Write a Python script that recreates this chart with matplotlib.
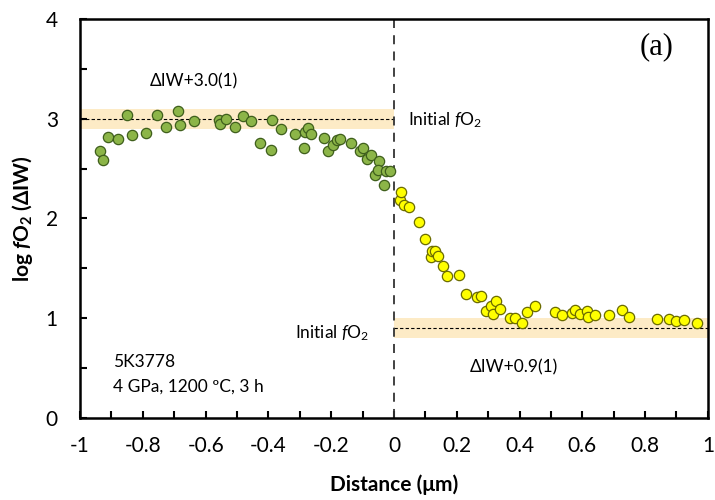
import matplotlib
matplotlib.use("Agg")
import matplotlib.pyplot as plt
from matplotlib.ticker import MultipleLocator, FuncFormatter

plt.rcParams['font.family'] = ['Lato', 'DejaVu Sans']
plt.rcParams['axes.unicode_minus'] = False
plt.rcParams['mathtext.fontset'] = 'custom'
plt.rcParams['mathtext.rm'] = 'Lato'
plt.rcParams['mathtext.it'] = 'Lato:italic'
plt.rcParams['mathtext.bf'] = 'Lato:bold'
plt.rcParams['mathtext.bfit'] = 'Lato:italic:bold'

# green: oxidised side (x < 0)
green_x = [-0.936, -0.926, -0.910, -0.878, -0.851, -0.835, -0.791, -0.756, -0.726,
           -0.687, -0.682, -0.636, -0.559, -0.554, -0.536, -0.505, -0.482, -0.456,
           -0.427, -0.393, -0.387, -0.361, -0.315, -0.287, -0.283, -0.273, -0.265,
           -0.223, -0.209, -0.193, -0.183, -0.172, -0.137, -0.108, -0.098, -0.087,
           -0.074, -0.048, -0.061, -0.052, -0.032, -0.025, -0.013]
green_y = [2.68, 2.59, 2.82, 2.80, 3.04, 2.84, 2.86, 3.04, 2.92,
           3.08, 2.94, 2.98, 2.99, 2.95, 3.00, 2.92, 3.03, 2.98,
           2.76, 2.69, 2.99, 2.90, 2.85, 2.71, 2.87, 2.91, 2.85,
           2.81, 2.68, 2.74, 2.79, 2.80, 2.76, 2.68, 2.71, 2.60,
           2.64, 2.58, 2.44, 2.49, 2.34, 2.48, 2.48]

# yellow: reduced side (x > 0)
yellow_x = [0.019, 0.024, 0.032, 0.049, 0.080, 0.099, 0.118, 0.120, 0.131, 0.141,
            0.155, 0.169, 0.207, 0.229, 0.263, 0.277, 0.293, 0.309, 0.314, 0.325,
            0.338, 0.369, 0.385, 0.409, 0.425, 0.450, 0.513, 0.534, 0.568, 0.576,
            0.592, 0.616, 0.619, 0.642, 0.686, 0.728, 0.748, 0.837, 0.877, 0.900,
            0.924, 0.966]
yellow_y = [2.19, 2.27, 2.14, 2.12, 1.96, 1.79, 1.61, 1.67, 1.67, 1.62,
            1.52, 1.42, 1.43, 1.24, 1.21, 1.22, 1.07, 1.12, 1.04, 1.17,
            1.09, 1.00, 1.00, 0.955, 1.06, 1.12, 1.06, 1.03, 1.05, 1.08,
            1.04, 1.07, 1.01, 1.03, 1.03, 1.08, 1.01, 0.99, 0.99, 0.97,
            0.98, 0.95]

# initial fO2 levels with uncertainty bands
left_level, left_err = 3.0, 0.1
right_level, right_err = 0.9, 0.1

fig = plt.figure(figsize=(7.15, 5.0), dpi=100)
ax = fig.add_axes([0.112, 0.164, 0.878, 0.798])

ax.fill_between([-1, 0], left_level - left_err, left_level + left_err,
                color='#fdebc6', lw=0, zorder=1)
ax.fill_between([0, 1], right_level - right_err, right_level + right_err,
                color='#fdebc6', lw=0, zorder=1)
ax.plot([-1, 0], [left_level, left_level], color='black', lw=0.8,
        dashes=(3, 2), zorder=2)
ax.plot([0, 1], [right_level, right_level], color='black', lw=0.8,
        dashes=(3, 2), zorder=2)
ax.axvline(0, color='#333333', lw=1.3, dashes=(5, 4), zorder=2)

ax.scatter(green_x, green_y, s=55, facecolor='#8cb548', edgecolor='#3f5f1c',
           linewidth=0.9, zorder=3)
ax.scatter(yellow_x, yellow_y, s=55, facecolor='#ffff00', edgecolor='#6b6b00',
           linewidth=0.9, zorder=3)

ax.set_xlim(-1, 1)
ax.set_ylim(0, 4)
ax.xaxis.set_major_locator(MultipleLocator(0.2))
ax.xaxis.set_minor_locator(MultipleLocator(0.1))
ax.yaxis.set_major_locator(MultipleLocator(1))
ax.yaxis.set_minor_locator(MultipleLocator(0.5))
ax.xaxis.set_major_formatter(FuncFormatter(lambda v, p: '%g' % round(v, 2)))
ax.yaxis.set_major_formatter(FuncFormatter(lambda v, p: '%g' % v))
ax.tick_params(which='both', direction='in', length=5, width=1.5,
               labelsize=15, colors='black')
ax.tick_params(axis='x', which='major', pad=13)
ax.tick_params(axis='y', which='major', pad=16)
for sp in ax.spines.values():
    sp.set_linewidth(1.8)

ax.set_xlabel('Distance (μm)', fontsize=15, fontweight='bold', labelpad=13)
ax.set_ylabel(r'log $\mathbfit{f}$O$_\mathbf{2}$ (ΔIW)', fontsize=15,
              fontweight='bold', labelpad=8)

ax.text(-0.777, 3.37, 'ΔIW+3.0(1)', fontsize=12.5, va='center', ha='left')
ax.text(0.045, 2.99, r'Initial $\mathit{f}$O$_2$', fontsize=12.5, va='center', ha='left')
ax.text(-0.08, 0.85, r'Initial $\mathit{f}$O$_2$', fontsize=12.5, va='center', ha='right')
ax.text(0.24, 0.51, 'ΔIW+0.9(1)', fontsize=12.5, va='center', ha='left')
ax.text(-0.895, 0.56, '5K3778', fontsize=12.5, va='center', ha='left')
ax.text(-0.895, 0.31, '4 GPa, 1200 ºC, 3 h', fontsize=12.5, va='center', ha='left')
ax.text(0.783, 3.72, '(a)', fontsize=22, va='center', ha='left',
        family='Liberation Serif')

fig.savefig('out.png', dpi=100)
